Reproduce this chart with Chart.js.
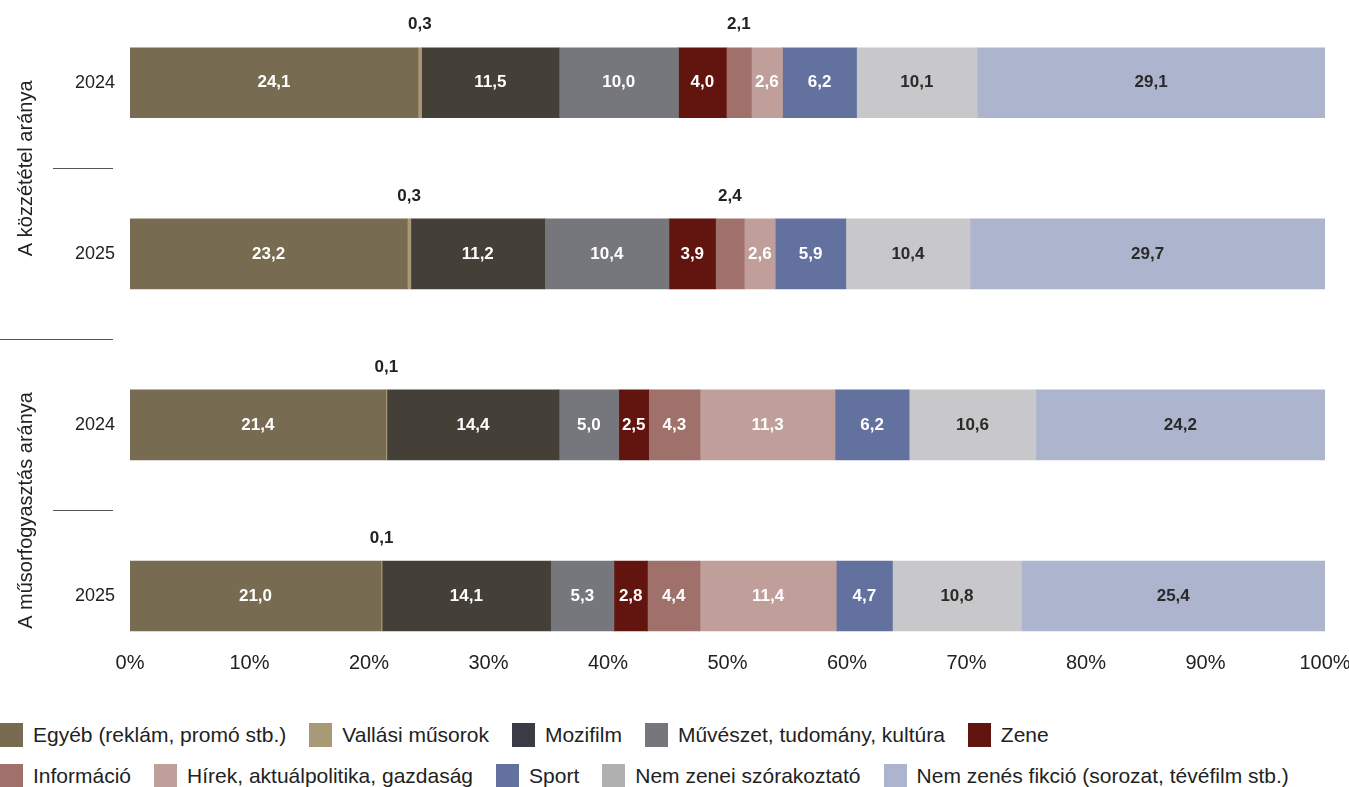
<!DOCTYPE html>
<html lang="hu">
<head>
<meta charset="utf-8">
<title>Műsortípusok aránya</title>
<script src="https://cdn.jsdelivr.net/npm/chart.js@4.4.1/dist/chart.umd.min.js"></script>
<style>
  html, body { margin: 0; padding: 0; background: #fff; }
  body { width: 1349px; height: 787px; position: relative; overflow: hidden; font-family: "Liberation Sans", Arial, sans-serif; }
  #wrap { position: absolute; left: 0; top: 0; width: 1349px; height: 708px; }
  #legend { position: absolute; left: 0; top: 723px; width: 1349px; }
  .lg-row { display: flex; align-items: center; height: 24px; margin-bottom: 17px; }
  .lg-item { display: flex; align-items: center; margin-right: 23px; font-size: 21px; color: #222; white-space: nowrap; }
  .lg-box { width: 23px; height: 24px; margin-right: 10px; flex: none; }
</style>
</head>
<body>
<div id="wrap"><canvas id="chart"></canvas></div>
<div id="legend"></div>
<script>
// ---- data ----
const categories = ['2024', '2025', '2024', '2025'];
const groups = ['A közzététel aránya', 'A műsorfogyasztás aránya'];

const seriesNames = [
  'Egyéb (reklám, promó stb.)',
  'Vallási műsorok',
  'Mozifilm',
  'Művészet, tudomány, kultúra',
  'Zene',
  'Információ',
  'Hírek, aktuálpolitika, gazdaság',
  'Sport',
  'Nem zenei szórakoztató',
  'Nem zenés fikció (sorozat, tévéfilm stb.)'
];

const egyeb      = [24.1, 23.2, 21.4, 21.0];
const vallasi    = [0.3, 0.3, 0.1, 0.1];
const mozifilm   = [11.5, 11.2, 14.4, 14.1];
const muveszet   = [10.0, 10.4, 5.0, 5.3];
const zene       = [4.0, 3.9, 2.5, 2.8];
const informacio = [2.1, 2.4, 4.3, 4.4];
const hirek      = [2.6, 2.6, 11.3, 11.4];
const sport      = [6.2, 5.9, 6.2, 4.7];
const nemZenei   = [10.1, 10.4, 10.6, 10.8];
const fikcio     = [29.1, 29.7, 24.2, 25.4];

const seriesValues = [egyeb, vallasi, mozifilm, muveszet, zene, informacio, hirek, sport, nemZenei, fikcio];

// ---- styles ----
const barColors    = ['#776c51', '#a89a76', '#444038', '#76777c', '#62140e', '#a0716b', '#c09f9b', '#63719f', '#c8c8ca', '#adb4cd'];
const legendColors = ['#776c51', '#a89a76', '#3a3c45', '#76777c', '#62140e', '#a0716b', '#c09f9b', '#63719f', '#b0b0b0', '#adb4cd'];
const labelColors  = ['#fff', '#fff', '#fff', '#fff', '#fff', '#fff', '#fff', '#fff', '#2a2a2a', '#2a2a2a'];
const FONT = '"Liberation Sans", Arial, sans-serif';

function fmt(v) { return v.toFixed(1).replace('.', ','); }

// labels, separators and group titles
const extras = {
  id: 'extras',
  afterDatasetsDraw(chart) {
    const ctx = chart.ctx;
    const ys = chart.scales.y;
    const area = chart.chartArea;
    ctx.save();
    ctx.textAlign = 'center';
    ctx.textBaseline = 'middle';
    ctx.font = 'bold 17px ' + FONT;
    chart.data.datasets.forEach((ds, di) => {
      const meta = chart.getDatasetMeta(di);
      meta.data.forEach((bar, i) => {
        const p = bar.getProps(['x', 'y', 'base', 'height'], true);
        const v = ds.data[i].x;
        const cx = (p.x + p.base) / 2;
        if (v < 2.5) {
          ctx.fillStyle = '#222';
          ctx.fillText(fmt(v), cx, p.y - p.height / 2 - 23);
        } else {
          ctx.fillStyle = labelColors[di];
          ctx.fillText(fmt(v), cx, p.y);
        }
      });
    });

    // separators
    ctx.strokeStyle = '#555';
    ctx.lineWidth = 1;
    for (let i = 0; i < categories.length - 1; i++) {
      const yy = Math.round(ys.getPixelForValue(i + 0.5)) + 0.5;
      const x0 = (i % 2 === 1) ? 0 : area.left - 77;
      ctx.beginPath();
      ctx.moveTo(x0, yy);
      ctx.lineTo(area.left - 17, yy);
      ctx.stroke();
    }

    // group titles
    ctx.fillStyle = '#222';
    ctx.font = '20px ' + FONT;
    groups.forEach((g, gi) => {
      const cy = ys.getPixelForValue(gi * 2 + 0.5);
      ctx.save();
      ctx.translate(26, cy);
      ctx.rotate(-Math.PI / 2);
      ctx.fillText(g, 0, 0);
      ctx.restore();
    });
    ctx.restore();
  }
};

const datasets = seriesNames.map((name, si) => ({
  label: name,
  data: seriesValues[si].map((v, i) => ({ x: v, y: i })),
  backgroundColor: barColors[si],
  borderWidth: 0,
  barThickness: 70
}));

new Chart(document.getElementById('chart'), {
  type: 'bar',
  data: { datasets: datasets },
  options: {
    indexAxis: 'y',
    responsive: true,
    maintainAspectRatio: false,
    animation: false,
    layout: { padding: { left: 0, right: 0, top: 0, bottom: 16 } },
    plugins: {
      legend: { display: false },
      tooltip: { enabled: false }
    },
    scales: {
      x: {
        type: 'linear',
        stacked: true,
        min: 0,
        max: 100,
        grid: { display: false, drawTicks: false },
        border: { display: false },
        afterFit: s => { s.paddingRight = 24; s.paddingLeft = 0; },
        ticks: {
          stepSize: 10,
          padding: 17,
          color: '#222',
          font: { family: FONT, size: 20 },
          callback: v => v + '%'
        }
      },
      y: {
        type: 'linear',
        stacked: true,
        reverse: true,
        bounds: 'data',
        offset: false,
        min: -0.333,
        max: 3.222,
        grid: { display: false, drawTicks: false },
        border: { display: false },
        afterFit: s => { s.width = 130; },
        afterBuildTicks: s => { s.ticks = categories.map((c, i) => ({ value: i })); },
        ticks: {
          padding: 15,
          color: '#222',
          font: { family: FONT, size: 18 },
          callback: v => categories[v] || ''
        }
      }
    }
  },
  plugins: [extras]
});

// legend, two rows as in the original
const legendEl = document.getElementById('legend');
const perRow = 5;
for (let r = 0; r * perRow < seriesNames.length; r++) {
  const row = document.createElement('div');
  row.className = 'lg-row';
  seriesNames.slice(r * perRow, r * perRow + perRow).forEach((name, k) => {
    const idx = r * perRow + k;
    const item = document.createElement('div');
    item.className = 'lg-item';
    const box = document.createElement('span');
    box.className = 'lg-box';
    box.style.background = legendColors[idx];
    item.appendChild(box);
    item.appendChild(document.createTextNode(name));
    row.appendChild(item);
  });
  legendEl.appendChild(row);
}
</script>
</body>
</html>
